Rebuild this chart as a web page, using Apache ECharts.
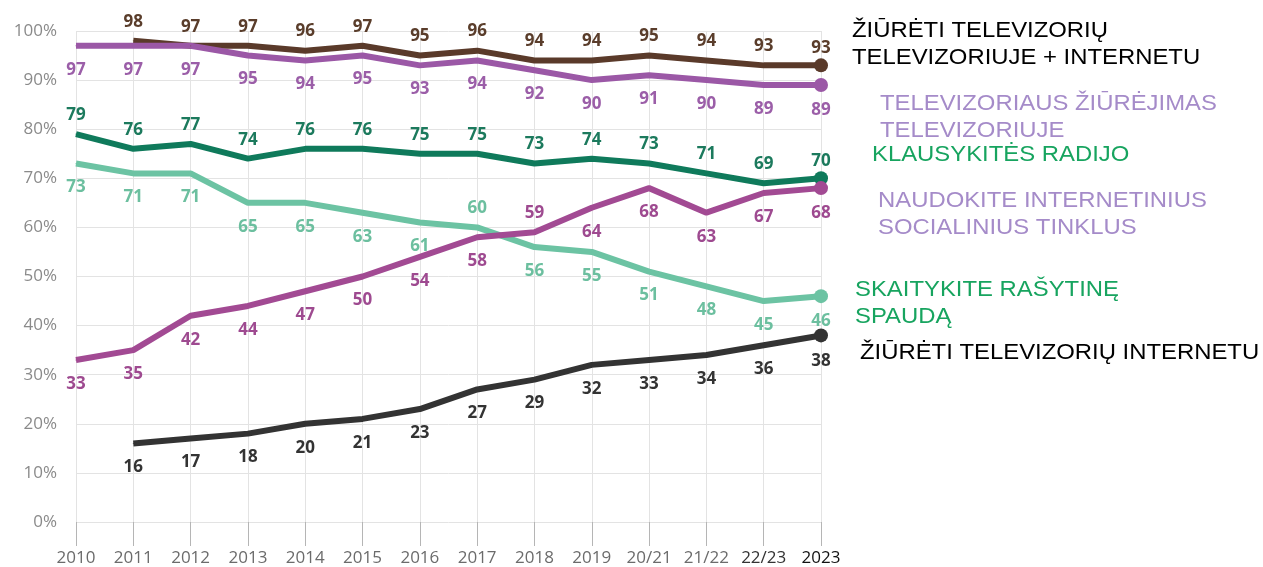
<!DOCTYPE html>
<html>
<head>
<meta charset="utf-8">
<script src="https://cdn.jsdelivr.net/npm/echarts@6/dist/echarts.min.js"></script>
<style>
  html, body { margin: 0; padding: 0; background: #fff; }
  #chart { width: 1263px; height: 567px; }
</style>
</head>
<body>
<div id="chart"></div>
<script>
// metai / laikotarpiai
var years = ['2010', '2011', '2012', '2013', '2014', '2015', '2016', '2017', '2018', '2019', '20/21', '21/22', '22/23', '2023'];
var yTicks = ['0%', '10%', '20%', '30%', '40%', '50%', '60%', '70%', '80%', '90%', '100%'];

// reikšmės, %
var tvPlusNet = ['-', 98, 97, 97, 96, 97, 95, 96, 94, 94, 95, 94, 93, 93];
var tvOnTv    = [97, 97, 97, 95, 94, 95, 93, 94, 92, 90, 91, 90, 89, 89];
var radio     = [79, 76, 77, 74, 76, 76, 75, 75, 73, 74, 73, 71, 69, 70];
var press     = [73, 71, 71, 65, 65, 63, 61, 60, 56, 55, 51, 48, 45, 46];
var social    = [33, 35, 42, 44, 47, 50, 54, 58, 59, 64, 68, 63, 67, 68];
var tvOnNet   = ['-', 16, 17, 18, 20, 21, 23, 27, 29, 32, 33, 34, 36, 38];

var myChart = echarts.init(document.getElementById('chart'));

// paverčiam į taškus: paskutinis taškas su apskritimu, kai kurios etiketės kitoje pusėje
function makeData(arr, defaultPos, flipIdx) {
    return arr.map(function (v, i) {
        var pos = defaultPos;
        if (flipIdx.indexOf(i) >= 0) pos = defaultPos === 'top' ? 'bottom' : 'top';
        var item = { value: v, label: { position: pos, distance: pos === 'top' ? 10 : 15 } };
        if (i === arr.length - 1) {
            item.symbolSize = 14;
            item.label.distance = pos === 'top' ? 2 : 10;
        }
        return item;
    });
}

function lineSeries(name, arr, color, labelColor, pos, flipIdx) {
    return {
        name: name,
        type: 'line',
        data: makeData(arr, pos, flipIdx),
        symbol: 'circle',
        symbolSize: 1,
        showSymbol: true,
        showAllSymbol: true,
        lineStyle: { color: color, width: 6 },
        itemStyle: { color: color },
        label: {
            show: true,
            color: labelColor,
            fontFamily: 'Open Sans',
            fontWeight: 'bold',
            fontSize: 17
        },
        emphasis: { disabled: true }
    };
}

var txtFont = '22px "Liberation Sans", Arial, sans-serif';
function sideText(str, x, y, color) {
    return {
        type: 'text',
        x: x,
        y: y,
        scaleX: 1.085,
        style: {
            text: str,
            fill: color,
            font: txtFont,
            lineHeight: 27,
            verticalAlign: 'middle'
        }
    };
}

var option = {
    animation: false,
    grid: { left: 76, right: 442, top: 31, bottom: 44, containLabel: false },
    xAxis: {
        type: 'category',
        data: years,
        boundaryGap: false,
        axisLine: { show: false },
        axisTick: { show: true, length: 24, lineStyle: { color: '#b5b5b5' } },
        splitLine: { show: true, lineStyle: { color: '#e3e3e3' } },
        axisLabel: {
            fontFamily: 'Open Sans',
            fontSize: 17,
            margin: 28,
            interval: 0,
            color: function (v, i) {
                if (v === '2023') return '#111';
                if (v === '22/23') return '#333';
                return '#6b6b6b';
            }
        }
    },
    yAxis: {
        type: 'value',
        min: 0,
        max: 100,
        interval: 10,
        axisLine: { show: false },
        axisTick: { show: false },
        splitLine: { lineStyle: { color: '#e3e3e3' } },
        axisLabel: {
            fontFamily: 'Open Sans',
            fontSize: 17,
            color: '#8a8a8a',
            margin: 19,
            formatter: function (v) { return yTicks[v / 10]; }
        }
    },
    series: [
        lineSeries('Žiūrėti televizorių televizoriuje + internetu', tvPlusNet, '#5a3a2a', '#5a3d2b', 'top', []),
        lineSeries('Televizoriaus žiūrėjimas televizoriuje', tvOnTv, '#9b58a6', '#9b5ea8', 'bottom', []),
        lineSeries('Klausykitės radijo', radio, '#0f7a5b', '#1c7a5d', 'top', []),
        lineSeries('Skaitykite rašytinę spaudą', press, '#6cc3a3', '#6cbf9f', 'bottom', [7]),
        lineSeries('Naudokite internetinius socialinius tinklus', social, '#a24a93', '#9e4a90', 'bottom', [8]),
        lineSeries('Žiūrėti televizorių internetu', tvOnNet, '#333333', '#333333', 'bottom', [])
    ],
    graphic: [
        sideText('ŽIŪRĖTI TELEVIZORIŲ\nTELEVIZORIUJE + INTERNETU', 852, 44, '#000000'),
        sideText('TELEVIZORIAUS ŽIŪRĖJIMAS\nTELEVIZORIUJE', 880, 117, '#a58bc9'),
        sideText('KLAUSYKITĖS RADIJO', 872, 155, '#17a45f'),
        sideText('NAUDOKITE INTERNETINIUS\nSOCIALINIUS TINKLUS', 878, 214, '#a58bc9'),
        sideText('SKAITYKITE RAŠYTINĘ\nSPAUDĄ', 855, 303, '#17a45f'),
        sideText('ŽIŪRĖTI TELEVIZORIŲ INTERNETU', 860, 353, '#000000')
    ]
};

myChart.setOption(option);
</script>
</body>
</html>
